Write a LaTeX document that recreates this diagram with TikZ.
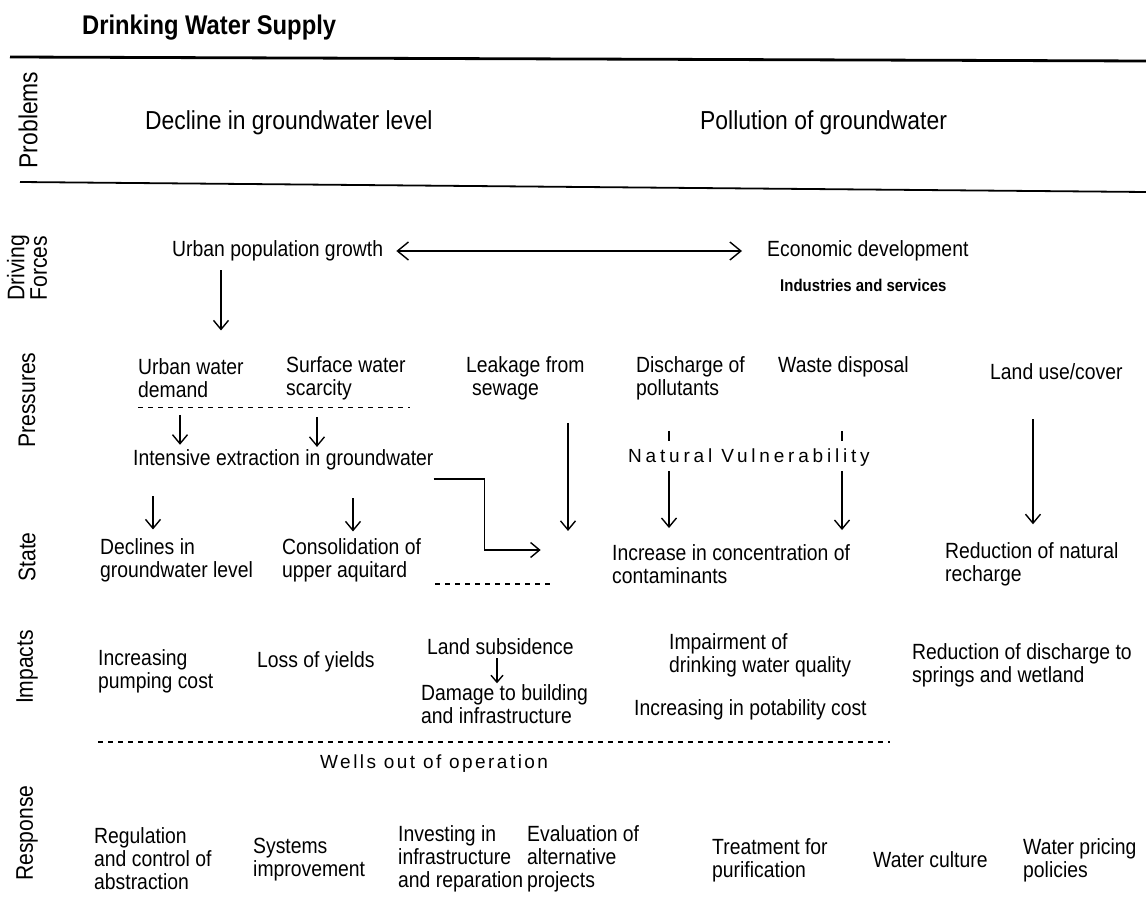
\documentclass[tikz,border=0pt]{standalone}
\usepackage{fontspec}
\setmainfont[FakeStretch=0.88]{Liberation Sans}
\newfontfamily\spacedfont[LetterSpace=20]{Liberation Sans}
\newfontfamily\wellsfont[LetterSpace=13]{Liberation Sans}
\usetikzlibrary{arrows.meta}
\begin{document}
\begin{tikzpicture}[x=1pt,y=-1pt,>={Straight Barb[length=9pt,width=15pt]},
lbl/.style={anchor=west,align=left,inner sep=0pt,font=\fontsize{22}{23}\selectfont},
big/.style={anchor=west,inner sep=0pt,font=\fontsize{26}{28}\selectfont},
row/.style={rotate=90,align=center,inner sep=0pt,font=\fontsize{24}{21}\selectfont},
arr/.style={->,line width=1.4pt},
dashline/.style={line width=1.4pt,dash pattern=on 5pt off 5pt}]
\useasboundingbox (0,0) rectangle (1146,904);
\node[anchor=west,inner sep=0pt,font=\bfseries\fontsize{27}{28}\selectfont] (title) at (82,28) {Drinking Water Supply};
\draw[line width=2.8pt] (10,57) -- (1146,61);
\draw[line width=1.8pt] (20,182) -- (1146,192);

\node[row,font=\fontsize{26}{26}\selectfont] (rprob) at (28,120) {Problems};
\node[row] (rdrv) at (27,268) {Driving\\Forces};
\node[row] (rpres) at (27,400) {Pressures};
\node[row] (rstate) at (27,557) {State};
\node[row] (rimp) at (27,667) {Impacts};
\node[row] (rresp) at (27,833) {Response};

\node[big] (dec) at (145,123) {Decline in groundwater level};
\node[big] (pol) at (700,123) {Pollution of groundwater};

\node[lbl] (upg) at (172,251) {Urban population growth};
\node[lbl] (eco) at (767,251) {Economic development};
\node[lbl,font=\bfseries\fontsize{17}{18}\selectfont] (ind) at (780,285) {Industries and services};
\draw[<->,line width=1.4pt,>={Straight Barb[length=11pt,width=18pt]}] ([xshift=13pt]upg.east) -- ([xshift=-25pt]eco.west);
\draw[arr] (upg.south west) ++(49,9) -- ++(0,60);

\node[lbl] (uwd) at (138,378) {Urban water\\demand};
\node[lbl] (sws) at (286,378) {Surface water\\scarcity};
\node[lbl] (lks) at (466,378) {Leakage from\\\hspace{6pt}sewage};
\node[lbl] (dis) at (636,378) {Discharge of\\pollutants};
\node[lbl] (wst) at (778,367) {Waste disposal};
\node[lbl] (luc) at (990,372) {Land use/cover};
\draw[dashline] (uwd.south west) ++(0,10) -- ++(272,0);
\draw[arr] (uwd.south west) ++(42,17) -- ++(0,30);
\draw[arr] (sws.south west) ++(31,17) -- ++(0,30);
\node[lbl] (iex) at (133,460) {Intensive extraction in groundwater};
\node[lbl,font=\spacedfont\fontsize{19}{20}\selectfont] (nvu) at (628,458) {Natural Vulnerability};
\draw[line width=1.4pt] (dis.south west) ++(33,31) -- ++(0,10);
\draw[line width=1.4pt] (wst.south west) ++(64,54) -- ++(0,10);
\draw[arr] (nvu.south west) ++(41,4) -- ++(0,57);
\draw[arr] (nvu.south west) ++(214,4) -- ++(0,59);
\draw[arr] (lks.south west) ++(102,23) -- ++(0,108);
\draw[arr] (luc.south west) ++(43,39) -- ++(0,105);
\draw[arr] (iex.east) ++(0,19) -- ++(51,0) -- ++(0,71) -- ++(56,0);
\draw[arr] (iex.south west) ++(20,26) -- ++(0,33);
\draw[arr] (iex.south west) ++(220,28) -- ++(0,33);

\node[lbl] (dgl) at (100,560) {Declines in\\groundwater level};
\node[lbl] (cua) at (282,560) {Consolidation of\\upper aquitard};
\node[lbl] (icc) at (612,564) {Increase in concentration of\\contaminants};
\node[lbl] (rnr) at (945,564) {Reduction of natural\\recharge};
\draw[dashline] (cua.south west) ++(153,2) -- ++(118,0);

\node[lbl] (ipc) at (98,671) {Increasing\\pumping cost};
\node[lbl] (loy) at (257,662) {Loss of yields};
\node[lbl] (lsd) at (427,647) {Land subsidence};
\node[lbl] (dtb) at (421,704) {Damage to building\\and infrastructure};
\node[lbl] (iwq) at (669,655) {Impairment of\\drinking water quality};
\node[lbl] (ipo) at (634,710) {Increasing in potability cost};
\node[lbl] (rds) at (912,665) {Reduction of discharge to\\springs and wetland};
\draw[arr,>={Straight Barb[length=7pt,width=12pt]}] (lsd.south west) ++(70,3) -- ++(0,25);
\draw[dashline] (ipc.south west) ++(0,49) -- ++(792,0);
\node[lbl,font=\wellsfont\fontsize{19}{20}\selectfont] (wop) at (320,764) {Wells out of operation};

\node[lbl] (rca) at (94,859) {Regulation\\and control of\\abstraction};
\node[lbl] (sim) at (253,860) {Systems\\improvement};
\node[lbl] (iin) at (398,859) {Investing in\\infrastructure\\and reparation};
\node[lbl] (eva) at (527,859) {Evaluation of\\alternative\\projects};
\node[lbl] (tpu) at (712,860) {Treatment for\\purification};
\node[lbl] (wcu) at (873,860) {Water culture};
\node[lbl] (wpp) at (1023,860) {Water pricing\\policies};
\end{tikzpicture}
\end{document}
